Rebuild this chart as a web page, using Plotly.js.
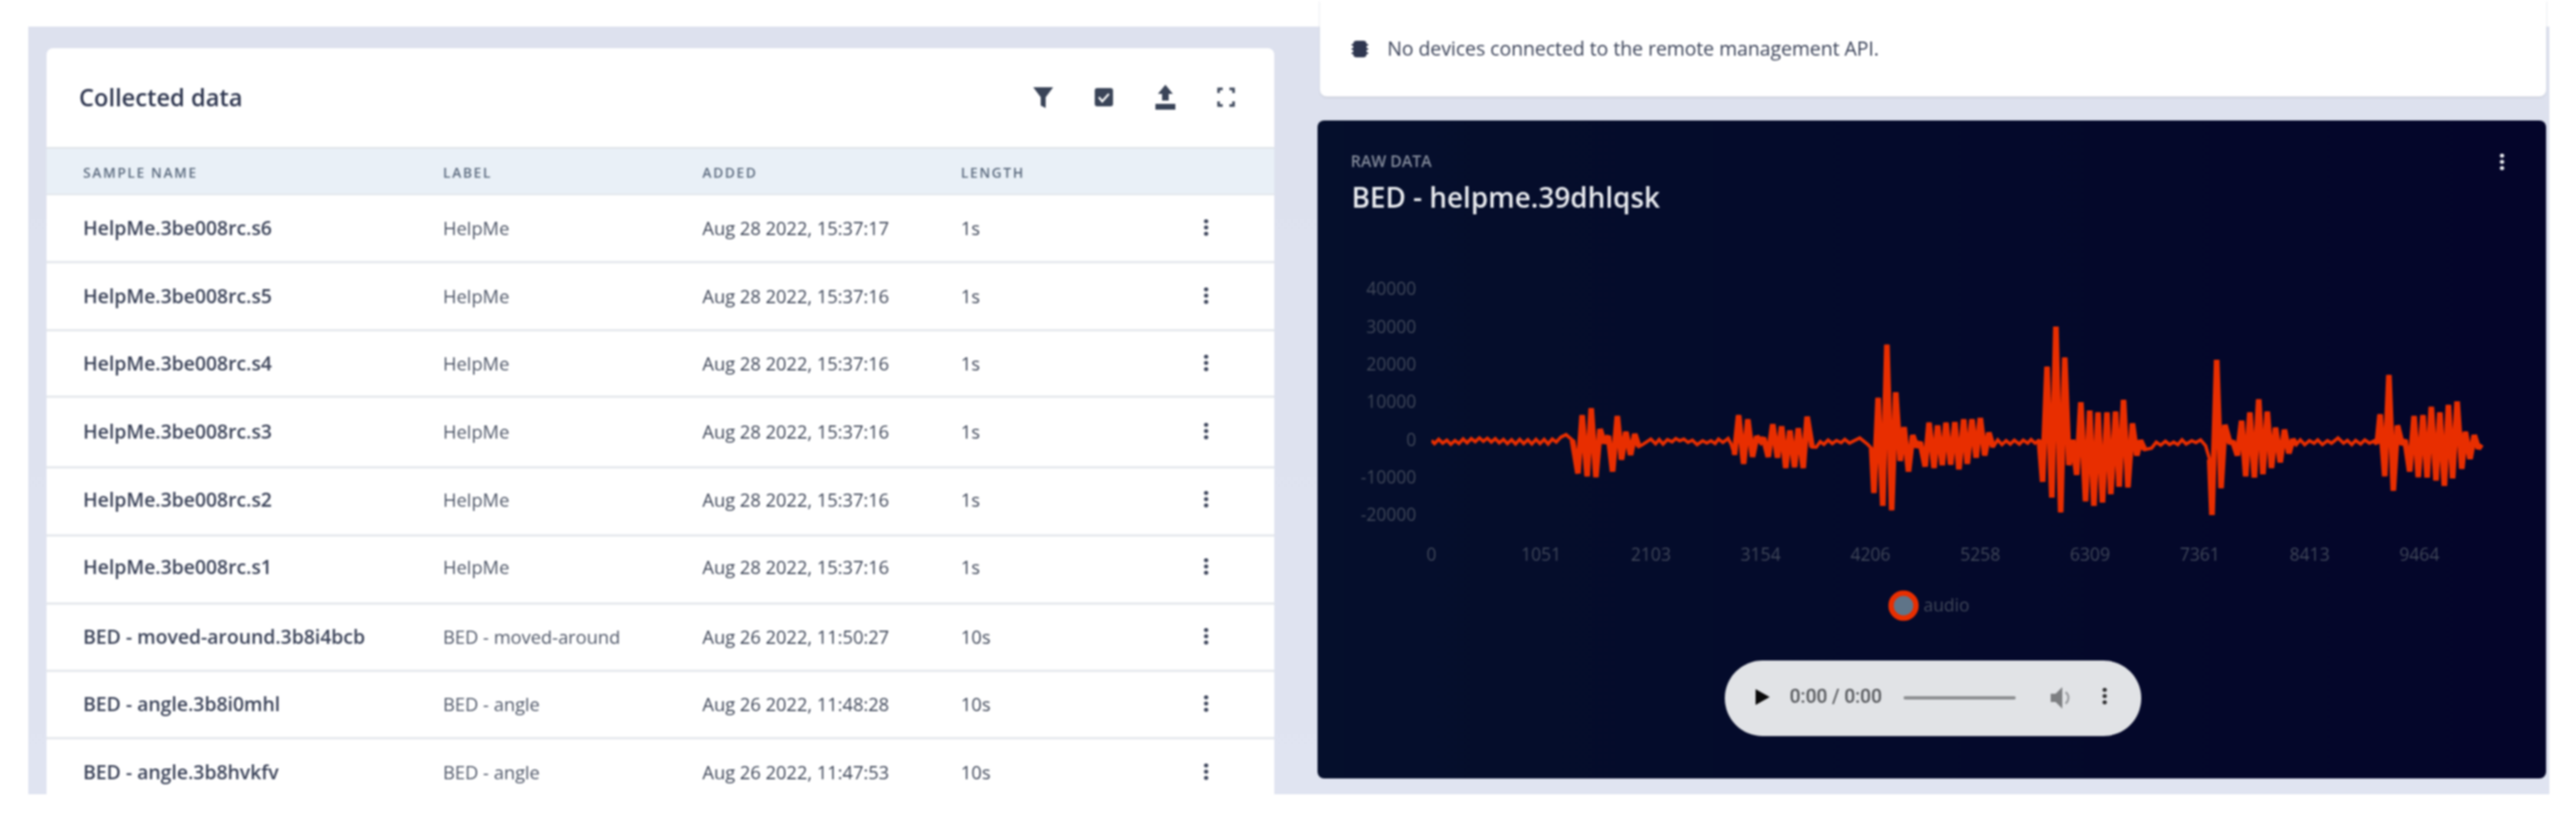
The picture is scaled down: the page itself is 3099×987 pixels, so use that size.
<!DOCTYPE html>
<html><head><meta charset="utf-8">
<script src="https://cdn.plot.ly/plotly-3.0.1.min.js"></script>
<style>
html,body{margin:0;padding:0;width:3099px;height:987px;background:#fff;overflow:hidden;font-family:"Open Sans",sans-serif}
#root{position:absolute;left:0;top:0;width:3099px;height:987px;filter:blur(.8px)}
.a{position:absolute}
.t{position:absolute;white-space:nowrap;transform:translateY(-50%);line-height:1}
.keb{position:absolute;width:5px;height:20px;transform:translate(-50%,-50%);background:radial-gradient(circle at 50% 2.5px,var(--c) 2.4px,transparent 2.6px) 0 0/5px 7.5px repeat-y}
#chart{position:absolute;left:0;top:0;width:3099px;height:987px}
</style></head><body>
<div id="root">
 <div class="a" style="left:34px;top:32px;width:3033px;height:924px;background:linear-gradient(#dde1ee,#e0e4f1)"></div>
 <div class="a" style="left:1588px;top:0;width:1475px;height:116px;background:#fff;border-radius:0 0 8px 8px;box-shadow:0 2px 3px #cfd3df"></div>
 <div class="a" style="left:56px;top:58px;width:1477px;height:898px;background:#fff;border-radius:8px 8px 0 0" id="card"></div>
 <div class="a" style="left:1585px;top:145px;width:1478px;height:792px;background:linear-gradient(90deg,#050f2c,#04052a);border-radius:8px" id="dark"></div>
 <div id="chart"></div>
 <div class="a" style="left:2075px;top:795px;width:501px;height:91px;background:#e1e3e6;border-radius:46px"></div>
 <svg class="a" style="left:2108px;top:826px" width="26" height="26"><path d="M4 3.500 L21 13 L4 22.500Z" fill="#0a0a0a"/></svg>
 <div class="t" id="clock" style="left:2153px;top:838px;font:500 23px Roboto,sans-serif;color:#56585c"></div>
 <div class="a" style="left:2290px;top:838px;width:135px;height:4px;background:#8c8e91;border-radius:2px"></div>
 <svg class="a" style="left:2465px;top:825px" width="30" height="30"><path d="M2 10h6l8-8v26l-8-8H2Z" fill="#7d7f82"/><path d="M20 8a9 9 0 0 1 0 14" stroke="#9a9ca0" stroke-width="2.500" fill="none"/></svg>
 <div class="keb" style="left:2532px;top:839px;--c:#2c2c2e;height:22px"></div>
</div>
<script>
// ---------- chart data ----------
const chartTitle = "BED - helpme.39dhlqsk";
const seriesName = "audio";
const xTickVals = [0,1051,2103,3154,4206,5258,6309,7361,8413,9464];
const yTickVals = [40000,30000,20000,10000,0,-10000,-20000];
const yTickText = ["40000","30000","20000","10000","0","-10000","-20000"];
// sample spans where the speech bursts are (drawn denser in the picture)
const burstStart = [1351,2903,4217,5823,7455,9034];
const burstEnd   = [1988,3647,5380,6832,8285,10056];

const sampleX = [
0,30,70,108,148,186,226,264,304,342,382,420,460,498,536,574,612,650,690,728,768,806,846,884,924,962,1002,1040,1080,1118,1158,1196,1240,1290,1351,
1404,1444,1492,1531,1576,1616,1656,1696,1736,1781,1821,1863,1908,1948,1988,
2014,2102,2147,2182,2219,2261,2306,2341,2378,2418,2458,2500,2545,2598,2638,2678,2718,2750,2792,2842,2872,
2903,2943,2991,3031,3076,3116,3156,3182,3227,3270,3315,3355,3394,3434,3479,3514,3562,3599,3647,
3686,3725,3760,3800,3840,3880,3925,3960,4005,4045,4103,4178,4217,
4239,4279,4324,4363,4409,4448,4491,4528,4570,4610,4650,4682,4730,4767,4815,4849,4894,4929,4974,5014,5053,5099,5133,5178,5218,5258,5300,5340,5380,
5425,5465,5505,5545,5584,5632,5669,5712,5744,5783,5823,
5855,5897,5943,5982,6028,6067,6107,6142,6181,6221,6266,6306,6346,6386,6428,6471,6508,6553,6588,6630,6672,6715,6757,6792,6832,
6898,6943,6986,7031,7071,7110,7150,7190,7230,7283,7323,7368,7416,7455,
7477,7522,7564,7601,7646,7681,7721,7761,7800,7840,7883,7925,7965,8007,8047,8086,8131,8171,8214,8251,8285,
8323,8365,8410,8455,8490,8535,8583,8622,8684,8737,8774,8816,8853,8901,8941,8986,9034,9060,
9087,9132,9172,9214,9254,9299,9326,9371,9413,9453,9498,9538,9578,9623,9660,9703,9742,9782,9825,9870,9904,9949,9989,10029,10056];
const sampleY = [
-200,-1000,100,-900,-100,-1200,-200,-1000,200,-800,300,-500,500,-400,400,-600,300,-800,100,-1000,0,-1100,100,-1000,0,-1100,100,-1000,100,-1100,200,-600,700,1360,-100,
-8940,6510,-9680,8350,-9900,2830,-850,990,-8430,6290,-5260,2100,-4010,1510,-1800,
-1430,180,-1070,40,-1140,40,-550,330,-260,180,-700,-110,-1290,-260,-850,-260,-990,180,-700,330,-1210,
-4010,6510,-6370,5410,-4530,850,-480,480,-4530,4080,-4750,3570,-7470,2470,-7250,3050,-7470,6150,-1950,
-1980,-500,-1200,-100,-1000,-200,-800,100,-900,-300,480,-1200,-2300,
-14100,11150,-17550,25280,-18730,12620,-5630,3350,-8430,1210,-1950,-630,-7100,4530,-7470,3790,-6730,4530,-6590,4670,-7840,5410,-6370,5410,-4750,5780,-4160,1880,-1950,
-40,-1290,-260,-1140,-110,-1140,-110,-920,40,-920,-40,
-11150,19390,-15350,30060,-19250,21820,-6730,-40,-9310,9970,-16300,7770,-17550,7250,-16670,7250,-14460,7470,-12480,10560,-12620,4310,-4160,-190,-2610,
-2240,-630,-1440,-400,-1290,-630,-1290,-40,-1140,-260,-770,-40,-1580,-5260,
-20350,21230,-12840,3940,-550,-770,-4160,5040,-9680,7250,-10050,10710,-9160,7470,-7470,3200,-6000,2690,-3570,110,-1290,
-40,-1290,-260,-920,-40,-1290,-260,-920,480,-920,-180,-1290,-180,-1140,-40,-920,-260,-920,
6730,-9680,17190,-13510,3790,-1290,-40,-8430,6290,-9900,6510,-10050,8720,-10780,7250,-12250,9230,-10270,10190,-7690,2100,-5110,1210,-2320,-1210];

// ---------- table contents ----------
const pageTitle = "Collected data";
const columnNames = ["SAMPLE NAME","LABEL","ADDED","LENGTH"];
const sampleNames = ["HelpMe.3be008rc.s6","HelpMe.3be008rc.s5","HelpMe.3be008rc.s4","HelpMe.3be008rc.s3","HelpMe.3be008rc.s2","HelpMe.3be008rc.s1","BED - moved-around.3b8i4bcb","BED - angle.3b8i0mhl","BED - angle.3b8hvkfv"];
const sampleLabels = ["HelpMe","HelpMe","HelpMe","HelpMe","HelpMe","HelpMe","BED - moved-around","BED - angle","BED - angle"];
const sampleAdded = ["Aug 28 2022, 15:37:17","Aug 28 2022, 15:37:16","Aug 28 2022, 15:37:16","Aug 28 2022, 15:37:16","Aug 28 2022, 15:37:16","Aug 28 2022, 15:37:16","Aug 26 2022, 11:50:27","Aug 26 2022, 11:48:28","Aug 26 2022, 11:47:53"];
const sampleLengths = ["1s","1s","1s","1s","1s","1s","10s","10s","10s"];
const deviceNotice = "No devices connected to the remote management API.";
const playerClock = "0:00 / 0:00";

// ---------- page furniture ----------
const root = document.getElementById('root');
const anchor = document.getElementById('chart');
function text(s,x,y,css){const d=document.createElement('div');d.className='t';d.textContent=s;d.style.cssText+=`left:${x}px;top:${y}px;`+css;root.insertBefore(d,anchor);return d;}
function box(css){const d=document.createElement('div');d.className='a';d.style.cssText=css;root.insertBefore(d,anchor);}
function kebab(x,y,c){const d=document.createElement('div');d.className='keb';d.style.cssText=`left:${x}px;top:${y}px;--c:${c}`;root.insertBefore(d,anchor);}
function svg(x,y,w,h,inner){const d=document.createElement('div');d.className='a';d.style.cssText=`left:${x-w/2}px;top:${y-h/2}px;width:${w}px;height:${h}px`;d.innerHTML=`<svg width="${w}" height="${h}" viewBox="0 0 ${w} ${h}">${inner}</svg>`;root.insertBefore(d,anchor);}

box('left:56px;top:177px;width:1477px;height:58px;background:#e9f0f7;border-top:2px solid #dfe3e8;border-bottom:2px solid #e3e7ec;box-sizing:border-box');
text(pageTitle,95,117,'font:600 28.500px "Open Sans";color:#2f3750');
const colX=[100,533,845,1156];
columnNames.forEach((c,i)=>text(c,colX[i],207,'font:600 16.500px "Open Sans";letter-spacing:2px;color:#5b6a7e'));
const rowY=[274,356,437,519,601,682,766,847,929], divY=[315,397,477,562,644,726,807,888];
divY.forEach(y=>box(`left:56px;top:${y-1}px;width:1477px;height:3px;background:#e7eaee`));
rowY.forEach((y,i)=>{
 text(sampleNames[i],100,y,'font:600 23.300px "Open Sans";color:#3a4258');
 text(sampleLabels[i],533,y,'font:400 22px "Open Sans";color:#4f5768');
 text(sampleAdded[i],845,y,'font:400 22px "Open Sans";color:#3f4759');
 text(sampleLengths[i],1156,y,'font:400 22px "Open Sans";color:#3f4759');
 kebab(1451,y,'#3a4258');
});
const ic='#3a4458';
svg(1255,117,26,30,`<path d="M1 3h24L16 15v13l-6-3V15Z" fill="${ic}"/>`);
svg(1328,117,24,24,`<rect x="1" y="1" width="22" height="22" rx="3" fill="${ic}"/><path d="M6 12l4 5 8-9" stroke="#fff" stroke-width="2.500" fill="none"/>`);
svg(1402,117,26,32,`<path d="M13 1l9 11h-5v8H9v-8H4Z M1 24h24v7H1Z" fill="${ic}"/>`);
svg(1475,117,24,26,`<path d="M3 8V3h5M16 3h5v5M21 18v5h-5M8 23H3v-5" stroke="${ic}" stroke-width="3" fill="none"/>`);
svg(1636,59,20,26,`<rect x="2" y="3" width="16" height="20" rx="4" fill="#2f3750"/><path d="M0 8h20M0 13h20M0 18h20" stroke="#2f3750" stroke-width="2"/>`);
text(deviceNotice,1669,58,'font:400 23.300px "Open Sans";color:#3a4258');
kebab(3010,195,'#eef0f3');
document.getElementById('clock').textContent = playerClock;

const dimText='#3f4658', waveColor='#e82e00';
// ---------- the chart, via Plotly scales ----------
const pl=1722, pr=2990, pt=348, pb=620, W=3099, H=987;
const fx=px=>(px-pl)/(pr-pl), fy=py=>(pb-py)/(pb-pt);
const tickFont={family:'"Open Sans",sans-serif',size:21,color:dimText};
const burstTraces = burstStart.map((s,b)=>{
  const idx = sampleX.map((v,i)=>i).filter(i=>sampleX[i]>=s && sampleX[i]<=burstEnd[b]);
  return {x:idx.map(i=>sampleX[i]),y:idx.map(i=>sampleY[i]),name:seriesName,type:'scatter',mode:'lines',
    line:{color:waveColor,width:6.8,shape:'linear',simplify:false},hoverinfo:'skip',showlegend:false};
});
Plotly.newPlot('chart',[{
  x:sampleX,y:sampleY,name:seriesName,type:'scatter',mode:'lines',
  line:{color:waveColor,width:4,shape:'linear',simplify:false},
  hoverinfo:'skip',showlegend:false
}].concat(burstTraces),{
  width:W,height:H,paper_bgcolor:'rgba(0,0,0,0)',plot_bgcolor:'rgba(0,0,0,0)',
  margin:{l:pl,r:W-pr,t:pt,b:H-pb,pad:0,autoexpand:false},showlegend:false,
  xaxis:{range:[0,10096],tickmode:'array',tickvals:xTickVals,ticktext:xTickVals.map(String),tickfont:tickFont,
         showgrid:false,zeroline:false,showline:false,ticks:'outside',ticklen:29,tickcolor:'rgba(0,0,0,0)',tickangle:0},
  yaxis:{range:[-20000,40000],tickmode:'array',tickvals:yTickVals,ticktext:yTickText,tickfont:tickFont,
         showgrid:false,zeroline:false,showline:false,ticks:'outside',ticklen:13,tickcolor:'rgba(0,0,0,0)'},
  title:{text:chartTitle,font:{family:'"Open Sans",sans-serif',size:33.5,color:'#e9ebef',weight:600},
         xref:'container',yref:'container',x:1626/W,xanchor:'left',y:1-238/H,yanchor:'middle',automargin:false,pad:{l:0,r:0,t:0,b:0}},
  shapes:[{type:'circle',xref:'paper',yref:'paper',x0:fx(2275),x1:fx(2305),y0:fy(744),y1:fy(714),
           line:{color:waveColor,width:6.5},fillcolor:'#5f7488'}],
  annotations:[
   {text:seriesName,xref:'paper',yref:'paper',x:fx(2312),y:fy(728),xanchor:'left',yanchor:'middle',showarrow:false,font:{family:'"Open Sans",sans-serif',size:21,color:dimText}},
   {text:'RAW DATA',xref:'paper',yref:'paper',x:fx(1623),y:fy(194),xanchor:'left',yanchor:'middle',showarrow:false,font:{family:'"Open Sans",sans-serif',size:19,color:'#848b9b',weight:600}}
  ]
},{staticPlot:true,displayModeBar:false});
</script>
</body></html>
